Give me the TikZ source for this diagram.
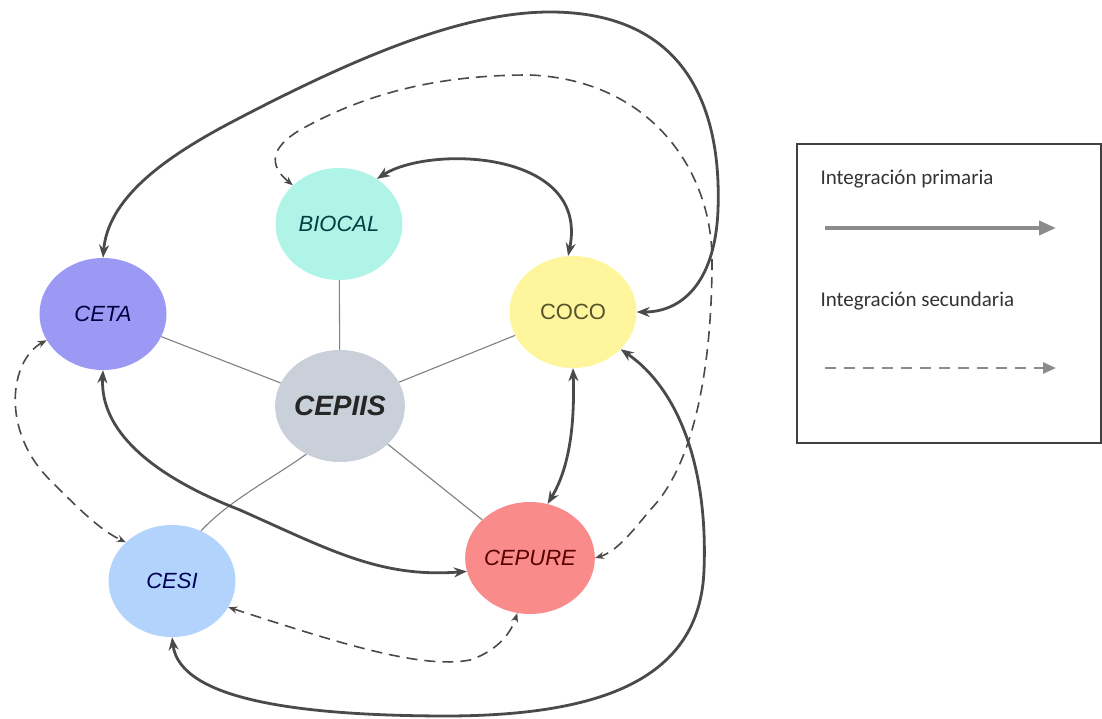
\documentclass[tikz,border=0pt]{standalone}
\usepackage{fontspec}
\setmainfont{Liberation Sans}
\newfontfamily\legendfont{Carlito}
\usetikzlibrary{shapes.geometric,arrows.meta}
\definecolor{linegray}{HTML}{4A4A4A}
\definecolor{biocalfill}{HTML}{B0F4E8}
\definecolor{cetafill}{HTML}{9C99F4}
\definecolor{cocofill}{HTML}{FFF59C}
\definecolor{cepiisfill}{HTML}{C9D0DA}
\definecolor{cepurefill}{HTML}{F98B8B}
\definecolor{cesifill}{HTML}{B2D3FB}
\begin{document}
\begin{tikzpicture}[x=1pt,y=-1pt,
    unit/.style={ellipse,minimum width=127pt,minimum height=112pt,inner sep=0pt,
                 font=\fontsize{22}{22}\selectfont\itshape},
    prim/.style={line width=2.8pt,draw=linegray,
                 {Stealth[length=13pt,width=10pt]}-{Stealth[length=13pt,width=10pt]}},
    sec/.style={line width=1.6pt,draw=linegray,dash pattern=on 11pt off 7pt,
                {Stealth[length=9pt,width=7pt]}-{Stealth[length=9pt,width=7pt]}},
    link/.style={draw=gray,line width=1.1pt}]
    \useasboundingbox (0,0) rectangle (1102,719);
    % units
    \node [unit,fill=biocalfill,text=teal!50!black] (BIOCAL) at (339,224) {BIOCAL};
    \node [unit,fill=cetafill,text=blue!25!black] (CETA) at (103,314) {CETA};
    \node [unit,fill=cocofill,text=olive!50!black,font=\fontsize{22}{22}\selectfont] (COCO) at (573,312) {COCO};
    \node [unit,fill=cepiisfill,text=black!85,font=\fontsize{28}{28}\selectfont\bfseries\itshape] (CEPIIS) at (340,406) {CEPIIS};
    \node [unit,fill=cepurefill,text=red!35!black] (CEPURE) at (530,558) {CEPURE};
    \node [unit,fill=cesifill,text=blue!35!black] (CESI) at (172,581) {CESI};
    % links to the centre
    \draw [link] (CEPIIS) -- (BIOCAL);
    \draw [link] (CEPIIS) -- (CETA);
    \draw [link] (CEPIIS) -- (COCO);
    \draw [link] (CEPIIS) -- (CEPURE);
    \draw [link] (CEPIIS.-125) .. controls (270,480) and (230,500) .. (CESI.60);
    % primary integration
    \draw [prim] (CETA.north) .. controls (108,200) and (160,160) .. (230,123)
        .. controls (350,60) and (460,12) .. (550,12)
        .. controls (680,12) and (722,100) .. (718,210)
        .. controls (715,285) and (680,312) .. (COCO.east);
    \draw [prim] (BIOCAL.50) .. controls (430,145) and (590,150) .. (COCO.95);
    \draw [prim] (COCO.south) .. controls (575,430) and (568,470) .. (CEPURE.72);
    \draw [prim] (CETA.south) .. controls (100,430) and (150,475) .. (240,510)
        .. controls (330,550) and (380,578) .. (CEPURE.192);
    \draw [prim] (COCO.-38) .. controls (680,390) and (708,470) .. (704,570)
        .. controls (700,680) and (600,715) .. (450,716)
        .. controls (300,716) and (180,700) .. (CESI.south);
    % secondary integration
    \draw [sec] (BIOCAL.140) .. controls (262,160) and (280,142) .. (300,130)
        .. controls (380,85) and (460,75) .. (530,75)
        .. controls (650,80) and (712,170) .. (712,260)
        .. controls (712,380) and (690,470) .. (650,510)
        .. controls (630,535) and (615,552) .. (CEPURE.east);
    \draw [sec] (CETA.205) .. controls (10,360) and (0,430) .. (50,480)
        .. controls (80,510) and (100,530) .. (CESI.140);
    \draw [sec] (CESI.-25) .. controls (330,640) and (420,670) .. (470,660)
        .. controls (500,650) and (512,630) .. (CEPURE.-103);
    % legend
    \draw [line width=1.4pt,draw=black!75] (797,144) rectangle (1101,443);
    \node [anchor=base west,font=\legendfont\fontsize{21}{21}\selectfont,text=black!80] (primtext) at (817,185) {Integración primaria};
    \node [anchor=base west,font=\legendfont\fontsize{21}{21}\selectfont,text=black!80] (sectext) at (817,306) {Integración secundaria};
    \coordinate (pa) at (825,228); \coordinate (pb) at (1056,228);
    \coordinate (sa) at (825,368); \coordinate (sb) at (1056,368);
    \draw [line width=3.6pt,draw=gray!90,-{Triangle[length=17pt,width=14pt]}] (pa) -- (pb);
    \draw [line width=2.4pt,draw=gray!90,dash pattern=on 11pt off 8pt,-{Triangle[length=13pt,width=11pt]}] (sa) -- (sb);
\end{tikzpicture}
\end{document}
